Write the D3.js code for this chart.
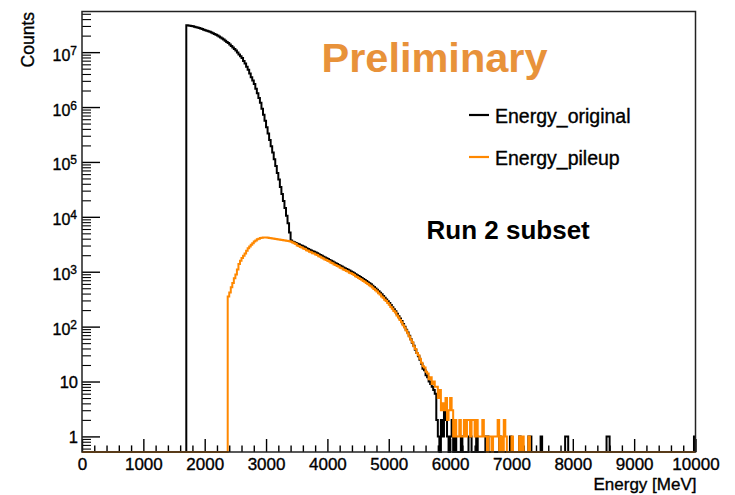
<!DOCTYPE html>
<html>
<head>
<meta charset="utf-8">
<script src="https://cdn.jsdelivr.net/npm/d3@7"></script>
<style>
body{margin:0;background:#fff}
svg{display:block}
text{font-family:"Liberation Sans",Arial,Helvetica,sans-serif}
</style>
</head>
<body>
<svg id="chart" width="735" height="495"></svg>
<script>
// ---------------- data ----------------
const binWidth = 25; // MeV
const seriesNames = ["Energy_original", "Energy_pileup"];
const seriesColors = ["#000000", "#ff8800"];

// Energy_original : contiguous bins starting at 1700 MeV
const originalStart = 1700;
const originalCounts = [
  30900000, 30500000, 30200000, 29900000,
  29500000, 29000000, 28500000, 28100000,
  27500000, 26900000, 26300000, 25700000,
  25100000, 24500000, 24000000, 23400000,
  22900000, 22100000, 21400000, 20700000,
  20000000, 19200000, 18400000, 17700000,
  17000000, 16100000, 15300000, 14600000,
  13800000, 13000000, 12200000, 11400000,
  10700000, 9900000, 9100000, 8400000,
  7800000, 6900000, 6200000, 5400000,
  4800000, 4100000, 3500000, 3050000,
  2630000, 2160000, 1780000, 1460000,
  1200000, 930000, 720000, 560000,
  430000, 330000, 250000, 193000,
  148000, 112000, 84000, 63000,
  48000, 35000, 26000, 19500,
  14500, 10500, 7600, 5200,
  3700, 3520, 3430, 3330,
  3240, 3150, 3050, 2970,
  2880, 2790, 2690, 2600,
  2510, 2440, 2370, 2300,
  2240, 2160, 2090, 2020,
  1950, 1880, 1820, 1760,
  1700, 1640, 1580, 1530,
  1480, 1430, 1380, 1330,
  1290, 1245, 1200, 1160,
  1120, 1085, 1050, 1010,
  977, 938, 902, 865,
  832, 798, 767, 736,
  708, 676, 646, 617,
  589, 556, 525, 495,
  468, 440, 412, 387,
  363, 337, 313, 290,
  269, 247, 226, 208,
  191, 172, 155, 140,
  126, 112, 99, 88,
  78, 68, 59, 51,
  45, 38, 33, 29,
  25, 21, 17, 16,
  13, 12, 10, 9,
  8, 7, 6
];
// Energy_original : sparse tail [bin low edge MeV, count]
const originalTail = [
  [5775, 2], [5800, 1], [5850, 2], [5875, 1], [5900, 3], [5925, 2], [5950, 1],
  [6000, 1], [6025, 2], [6075, 1], [6175, 1], [6300, 1], [6325, 1], [6425, 1],
  [6575, 1], [6600, 1], [6800, 1], [6975, 1], [7125, 1], [7275, 1], [7300, 1],
  [7475, 1], [7875, 1], [7900, 1], [8550, 1], [8575, 1], [9975, 1]
];

// Energy_pileup : contiguous bins starting at 2375 MeV
const pileupStart = 2375;
const pileupCounts = [
  355,
  420, 520, 620, 760,
  890, 1100, 1380, 1580,
  1780, 1950, 2140, 2400,
  2690, 2880, 3090, 3310,
  3550, 3720, 3890, 4000,
  4120, 4170, 4220, 4220,
  4200, 4170, 4120, 4080,
  4030, 3990, 3950, 3910,
  3870, 3840, 3800, 3760,
  3720, 3680, 3640, 3600,
  3520, 3390, 3300, 3200,
  3000, 2930, 2810, 2760,
  2650, 2590, 2470, 2420,
  2310, 2270, 2180, 2140,
  2060, 2010, 1920, 1880,
  1790, 1750, 1670, 1640,
  1560, 1530, 1450, 1420,
  1360, 1330, 1270, 1240,
  1180, 1160, 1100, 1080,
  1030, 1010, 960, 940,
  905, 875, 830, 800,
  770, 735, 712, 680,
  655, 625, 600, 570,
  545, 515, 485, 460,
  435, 405, 385, 355,
  335, 310, 292, 268,
  250, 228, 212, 193,
  180, 160, 146, 132,
  120, 106, 96, 85,
  76, 66, 58, 52,
  44, 39, 33, 30,
  26, 22, 19, 18,
  15, 14, 11, 12,
  9, 10, 8
];
// Energy_pileup : sparse tail [bin low edge MeV, count]
const pileupTail = [
  [5775, 8], [5800, 5], [5825, 7], [5850, 3], [5875, 4], [5900, 3], [5925, 5],
  [5950, 2], [5975, 3], [6000, 5], [6025, 3], [6050, 1], [6075, 2], [6100, 1],
  [6125, 1], [6150, 2], [6175, 1], [6200, 1], [6225, 2], [6250, 1], [6275, 2],
  [6300, 2], [6325, 1], [6350, 2], [6375, 2], [6400, 1], [6425, 2], [6450, 1],
  [6475, 1], [6500, 1], [6525, 2], [6550, 1], [6575, 1], [6625, 1], [6650, 1],
  [6700, 1], [6725, 1], [6750, 1], [6775, 2], [6825, 1], [6875, 2], [6900, 1],
  [7000, 1], [7125, 1], [7175, 1], [7275, 1]
];

const xTickValues = [0, 1000, 2000, 3000, 4000, 5000, 6000, 7000, 8000, 9000, 10000];
const xTickLabels = ["0", "1000", "2000", "3000", "4000", "5000", "6000", "7000", "8000", "9000", "10000"];
const yTickValues = [1, 10, 100, 1000, 10000, 100000, 1000000, 10000000];
const yTickBase = ["1", "10", "10", "10", "10", "10", "10", "10"];
const yTickExp = ["", "", "2", "3", "4", "5", "6", "7"];
const xTitle = "Energy [MeV]";
const yTitle = "Counts";
const stampText = "Preliminary";
const noteText = "Run 2 subset";

// ---------------- drawing ----------------
const svg = d3.select("#chart");
const L = 82, R = 695.5, T = 11.5, B = 452;
const x = d3.scaleLinear().domain([0, 10000]).range([L, R]);
const y = d3.scaleLog().domain([0.52, 5.5e7]).range([B, T]);
const heavy = t => t.attr("stroke", "#000").attr("stroke-width", 0.35);

function toBins(start, counts, tail) {
  const n = Math.round(10000 / binWidth);
  const arr = new Array(n).fill(0);
  const s = Math.round(start / binWidth);
  counts.forEach((c, i) => { arr[s + i] = c; });
  tail.forEach(([e, c]) => { arr[Math.round(e / binWidth)] = c; });
  return arr;
}
function histPath(arr) {
  let p = "";
  arr.forEach((c, i) => {
    const yy = c > 0 ? y(c) : B;
    const xa = x(i * binWidth), xb = x((i + 1) * binWidth);
    p += (i === 0 ? `M${xa},${yy}` : `V${yy}`) + `H${xb}`;
  });
  return p;
}

svg.append("defs").append("clipPath").attr("id", "clip")
  .append("rect").attr("x", L).attr("y", T).attr("width", R - L).attr("height", B - T + 2);

// x axis: major + minor ticks (pointing inward)
const xMinor = d3.range(200, 10000, 200).filter(v => v % 1000 !== 0);
const gx = svg.append("g").attr("transform", `translate(0,${B})`)
  .call(d3.axisBottom(x).tickValues(xTickValues).tickSizeInner(-13).tickSizeOuter(0)
    .tickPadding(5.5).tickFormat((d, i) => xTickLabels[i]));
gx.select(".domain").remove();
gx.selectAll(".tick line").attr("stroke", "#000").attr("stroke-width", 1.4);
gx.selectAll(".tick text").attr("font-size", 17).attr("fill", "#000")
  .attr("font-family", "Liberation Sans, Arial, sans-serif").call(heavy);
const gxm = svg.append("g").attr("transform", `translate(0,${B})`)
  .call(d3.axisBottom(x).tickValues(xMinor).tickSizeInner(-6.6).tickSizeOuter(0).tickFormat(""));
gxm.select(".domain").remove();
gxm.selectAll(".tick line").attr("stroke", "#000").attr("stroke-width", 1.4);

// y axis: log major + minor ticks
const yMinor = [];
[-1, 0, 1, 2, 3, 4, 5, 6, 7].forEach(k => {
  [2, 3, 4, 5, 6, 7, 8, 9].forEach(m => {
    const v = m * Math.pow(10, k);
    if (v >= 0.52 && v <= 5.5e7) yMinor.push(v);
  });
});
const gy = svg.append("g").attr("transform", `translate(${L},0)`)
  .call(d3.axisLeft(y).tickValues(yTickValues).tickSizeInner(-18).tickSizeOuter(0).tickFormat(""));
gy.select(".domain").remove();
gy.selectAll(".tick line").attr("stroke", "#000").attr("stroke-width", 1.4);
const gym = svg.append("g").attr("transform", `translate(${L},0)`)
  .call(d3.axisLeft(y).tickValues(yMinor).tickSizeInner(-9).tickSizeOuter(0).tickFormat(""));
gym.select(".domain").remove();
gym.selectAll(".tick line").attr("stroke", "#000").attr("stroke-width", 1.1);

// y tick labels
yTickValues.forEach((v, i) => {
  const t = svg.append("text").attr("text-anchor", "end").attr("fill", "#000").call(heavy);
  if (yTickExp[i] === "") {
    t.attr("x", 78).attr("y", y(v) + 6.5).attr("font-size", 16.5).text(yTickBase[i]);
  } else {
    t.attr("x", 77).attr("y", y(v) + 8.5).attr("font-size", 16);
    t.append("tspan").text(yTickBase[i]);
    t.append("tspan").attr("font-size", 12).attr("dy", -6).text(yTickExp[i]);
  }
});

// histograms
const plot = svg.append("g").attr("clip-path", "url(#clip)");
const origBins = toBins(originalStart, originalCounts, originalTail);
const pileBins = toBins(pileupStart, pileupCounts, pileupTail);
plot.append("path").attr("d", histPath(origBins)).attr("fill", "none")
  .attr("stroke", seriesColors[0]).attr("stroke-width", 2).attr("stroke-linejoin", "miter");
plot.append("path").attr("d", histPath(pileBins)).attr("fill", "none")
  .attr("stroke", seriesColors[1]).attr("stroke-width", 2).attr("stroke-linejoin", "miter");

// frame
svg.append("rect").attr("x", L).attr("y", T).attr("width", R - L).attr("height", B - T)
  .attr("fill", "none").attr("stroke", "#222").attr("stroke-width", 1.5);

// axis titles
svg.append("text").attr("x", R + 1).attr("y", 489.5).attr("text-anchor", "end")
  .attr("font-size", 17).attr("fill", "#000").call(heavy).text(xTitle);
svg.append("text").attr("transform", "translate(33.5,12) rotate(-90)").attr("text-anchor", "end")
  .attr("font-size", 17.5).attr("fill", "#000").call(heavy).text(yTitle);

// legend
const legY = [115, 157];
seriesNames.forEach((name, i) => {
  svg.append("line").attr("x1", 469).attr("x2", 489).attr("y1", legY[i]).attr("y2", legY[i])
    .attr("stroke", seriesColors[i]).attr("stroke-width", 2.2);
  svg.append("text").attr("x", 495).attr("y", legY[i] + 7.5).attr("font-size", 19.5)
    .attr("fill", "#000").call(heavy).text(name);
});

// annotations
svg.append("text").attr("x", 321.5).attr("y", 72).attr("font-size", 41.5).attr("font-weight", "bold")
  .attr("fill", "#e8923a").text(stampText);
svg.append("text").attr("x", 426.5).attr("y", 238.5).attr("font-size", 26).attr("font-weight", "bold")
  .attr("fill", "#000").text(noteText);
</script>
</body>
</html>
